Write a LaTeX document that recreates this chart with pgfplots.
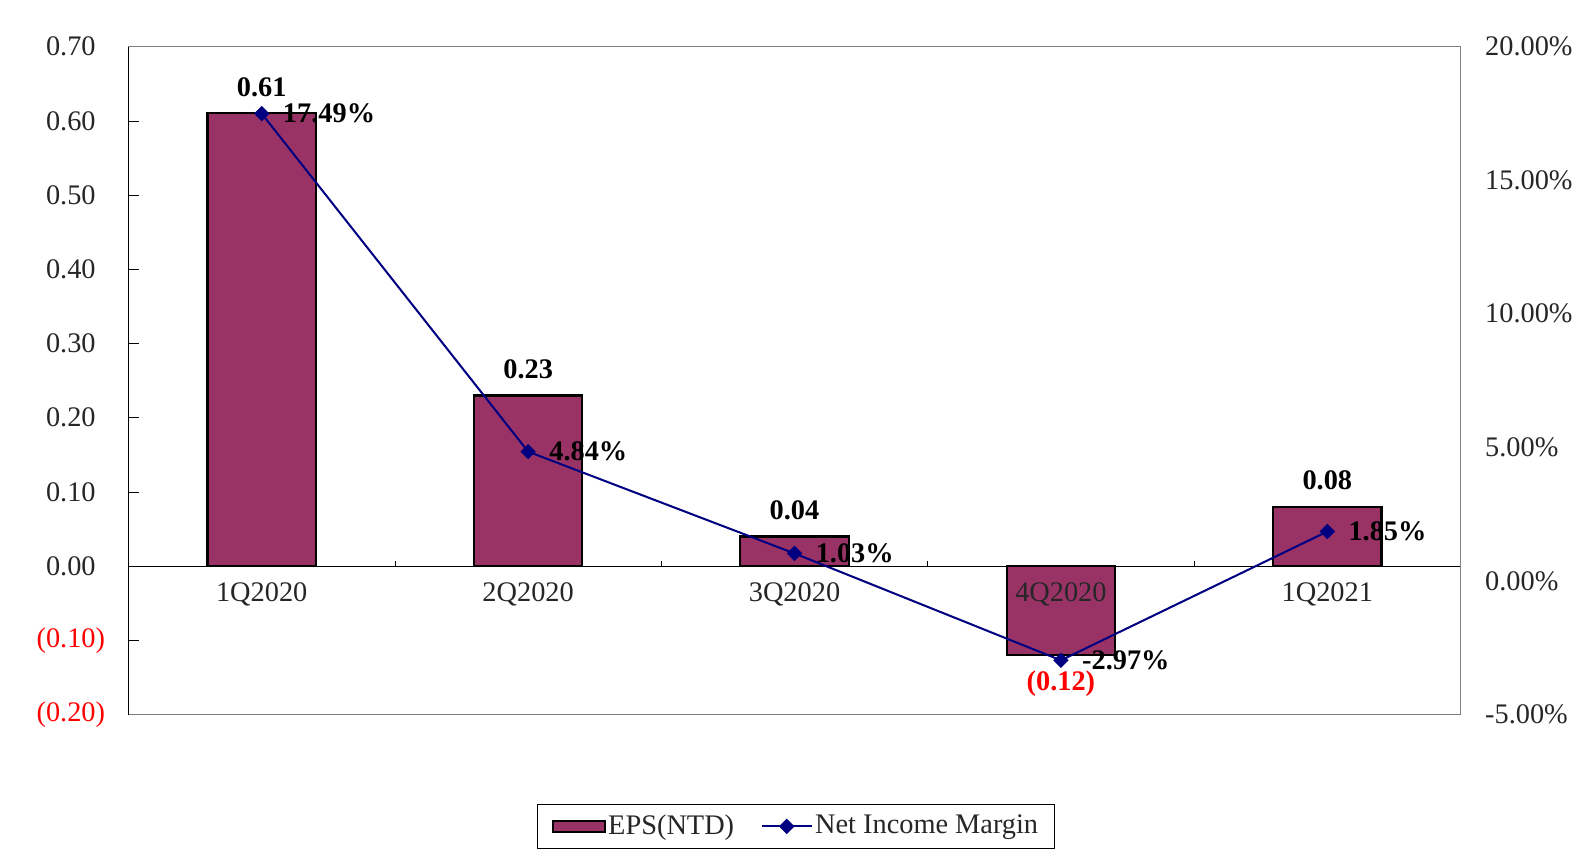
\documentclass[border=0pt]{standalone}
\usepackage{pgfplots}
\pgfplotsset{compat=1.18}
\usepackage{fontspec}
\setmainfont{Liberation Serif}
\definecolor{barc}{HTML}{993366}
\definecolor{linec}{HTML}{000080}
\definecolor{framec}{HTML}{808080}
\begin{document}
\fontsize{14}{16}\selectfont
\begin{tikzpicture}
\useasboundingbox (0,0) rectangle (784pt,423pt);
\begin{axis}[
  at={(63.5pt,70pt)}, anchor=south west,
  scale only axis, width=658pt, height=330pt,
  xmin=-0.5, xmax=4.5, ymin=-0.2, ymax=0.7,
  xtick=\empty,
  ytick={-0.2,-0.1,0,0.1,0.2,0.3,0.4,0.5,0.6,0.7},
  yticklabels={\textcolor{red}{(0.20)},\textcolor{red}{(0.10)},0.00,0.10,0.20,0.30,0.40,0.50,0.60,0.70},
  ytick pos=left, tick align=inside, major tick length=5pt,
  axis line style={framec},
  ytick style={black},
  yticklabel style={anchor=center, inner sep=0pt, xshift=-28.5pt, text=black!85},
  ybar, bar width=53.5pt, bar shift=0pt,
  clip=false,
]
\addplot[fill=barc, draw=black, line width=1.1pt,
  nodes near coords, point meta=explicit symbolic,
  nodes near coords style={font=\bfseries, text=black, anchor=center, inner sep=0pt, yshift=13pt}]
  table[meta=l] {
x y l
0 0.61 0.61
1 0.23 0.23
2 0.04 0.04
4 0.08 0.08
};
\addplot[fill=barc, draw=black, line width=1.1pt,
  nodes near coords, point meta=explicit symbolic,
  nodes near coords style={font=\bfseries, text=red, anchor=center, inner sep=0pt, yshift=-14pt}]
  table[meta=l] {
x y l
3 -0.12 (0.12)
};
\draw[black] (rel axis cs:0,0) -- (rel axis cs:0,1);
\draw[black] (axis cs:-0.5,0) -- (axis cs:4.5,0);
\draw[black] (axis cs:0.5,0) -- ([yshift=2.5pt]axis cs:0.5,0);
\draw[black] (axis cs:1.5,0) -- ([yshift=2.5pt]axis cs:1.5,0);
\draw[black] (axis cs:2.5,0) -- ([yshift=2.5pt]axis cs:2.5,0);
\draw[black] (axis cs:3.5,0) -- ([yshift=2.5pt]axis cs:3.5,0);
\node[text=black!85] at (axis cs:0,0) [yshift=-14pt] {1Q2020};
\node[text=black!85] at (axis cs:1,0) [yshift=-14pt] {2Q2020};
\node[text=black!85] at (axis cs:2,0) [yshift=-14pt] {3Q2020};
\node[text=black!85] at (axis cs:3,0) [yshift=-14pt] {4Q2020};
\node[text=black!85] at (axis cs:4,0) [yshift=-14pt] {1Q2021};
\end{axis}
\begin{axis}[
  at={(63.5pt,70pt)}, anchor=south west,
  scale only axis, width=658pt, height=330pt,
  xmin=-0.5, xmax=4.5, ymin=-5, ymax=20,
  axis x line=none, axis y line*=right,
  y axis line style={framec},
  ytick={-5,0,5,10,15,20},
  yticklabels={-5.00\%,0.00\%,5.00\%,10.00\%,15.00\%,20.00\%},
  ytick style={draw=none},
  yticklabel style={anchor=west, inner sep=0pt, xshift=12pt, text=black!85},
  clip=false,
  legend columns=2,
  legend style={at={(0.501,-0.1674)}, anchor=center, draw=black,
    /tikz/every even column/.append style={column sep=12pt},
    inner xsep=7pt, inner ysep=4pt, nodes={inner sep=1pt, text=black!85}},
]
\addlegendimage{legend image code/.code={\draw[fill=barc,draw=black,line width=1pt] (0pt,-2.75pt) rectangle (26pt,2.75pt);}}
\addlegendentry{EPS(NTD)}
\addplot[linec, line width=1pt, mark=square*, mark size=2.2pt, mark options={rotate=45},
  legend image code/.code={\draw[mark repeat=2,mark phase=2] plot coordinates {(0pt,0pt) (12.5pt,0pt) (25pt,0pt)};},
  nodes near coords, point meta=explicit symbolic,
  nodes near coords style={font=\bfseries, text=black, anchor=west, inner sep=0pt, xshift=10pt}]
  coordinates {(0,17.49) [17.49\%] (1,4.84) [4.84\%] (2,1.03) [1.03\%] (3,-2.97) [-2.97\%] (4,1.85) [1.85\%]};
\addlegendentry{Net Income Margin}
\end{axis}
\end{tikzpicture}
\end{document}
